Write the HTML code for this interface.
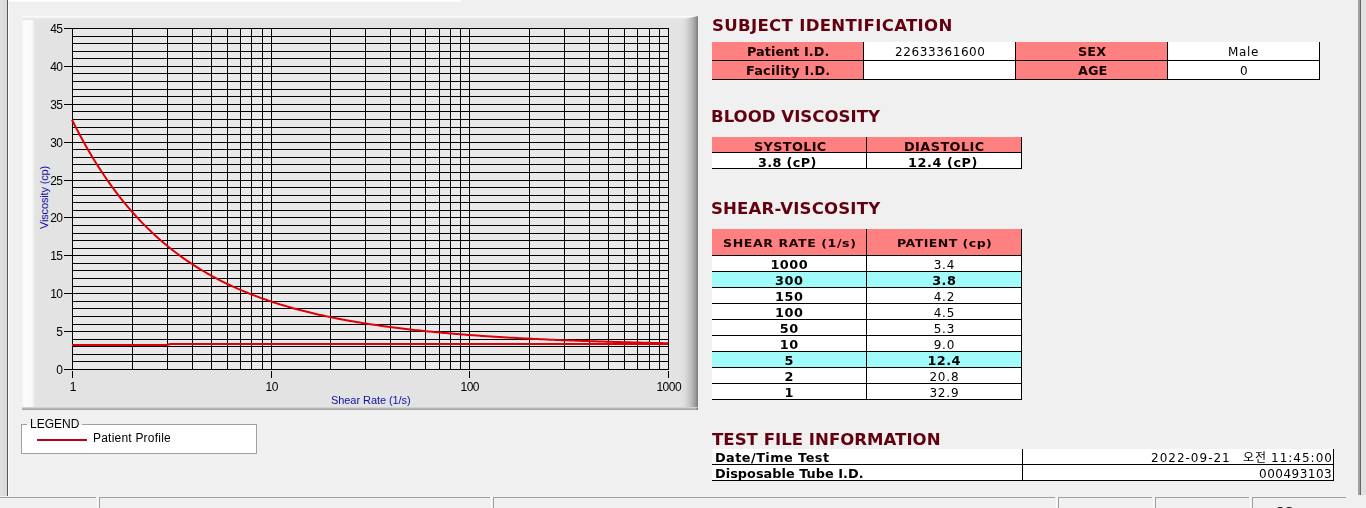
<!DOCTYPE html>
<html><head><meta charset="utf-8">
<style>
html,body{margin:0;padding:0;}
body{width:1366px;height:508px;overflow:hidden;background:#f0f0f0;position:relative;font-family:"DejaVu Sans","Liberation Sans",sans-serif;}
.a{position:absolute;}
.t{position:absolute;line-height:20px;white-space:nowrap;}
#txt{position:absolute;left:0;top:0;width:1366px;height:508px;will-change:transform;}
#lstrip{left:0;top:0;width:7px;height:496px;background:linear-gradient(to right,#dedede 0,#e2e2e2 2px,#d8d8d8 4px,#e0e0e0 6px,#d0d0d0 7px);}
#lline{left:7px;top:0;width:1px;height:496px;background:#585858;}
#lwhite{left:8px;top:0;width:1px;height:496px;background:#fbfbfb;}
#topw{left:8px;top:0;width:453px;height:2px;background:linear-gradient(to bottom,#fff 0,#fff 1px,#f6f6f6 2px);}
#panel{left:22px;top:16px;width:676px;height:394px;background:#e3e3e3;overflow:hidden;}
#pl{left:0;top:0;width:14px;height:391px;background:linear-gradient(to right,#f5f5f5 0,#fbfbfb 2px,#fafafa 9px,#f2f2f2 11px,#e3e3e3 13px);}
#pt{left:0;top:0;width:676px;height:4px;background:linear-gradient(to bottom,#fafafa 0,#fafafa 1px,#ececec 2px,#e3e3e3 4px);}
#pr{right:0;top:0;width:18px;height:394px;background:linear-gradient(to right,#e3e3e3 0,#dcdcdc 5px,#c4c4c4 10px,#a0a0a0 15px,#7a7a7a 18px);clip-path:polygon(0 4px,100% 0,100% 100%,0 100%);}
#pb{left:0;bottom:0;width:676px;height:3px;background:linear-gradient(to bottom,#e3e3e3 0,#c0c0c0 1px,#9c9c9c 3px);clip-path:polygon(0 0,100% 0,calc(100% - 3px) 100%,0 100%);}
#legend{left:21px;top:424px;width:236px;height:30px;box-sizing:border-box;border:1px solid #a0a0a0;background:#fff;}
#legbg{left:27px;top:424px;width:55px;height:1px;background:#f0f0f0;}
#legline{left:37px;top:439px;width:50px;height:2px;background:#c00018;}
#sb{left:0;top:497px;width:1346px;height:1px;background:#a0a0a0;}
.sep{position:absolute;top:497px;width:1px;height:11px;background:#a0a0a0;}
.sepw{position:absolute;top:497px;width:1px;height:11px;background:#fff;}
#rline{left:1360px;top:0;width:1px;height:495px;background:#666;}
#rline2{left:1358px;top:0;width:2px;height:495px;background:#a0a0a0;}
#rstrip{left:1361px;top:0;width:5px;height:495px;background:#e1e1e1;}
</style></head><body>
<div class="a" id="lstrip"></div><div class="a" id="lline"></div><div class="a" id="lwhite"></div>
<div class="a" id="topw"></div>
<div class="a" id="panel">
<div class="a" id="pl"></div><div class="a" id="pt"></div><div class="a" id="pr"></div><div class="a" id="pb"></div>
</div>
<svg class="a" width="1366" height="508" style="left:0;top:0">
<rect x="72" y="28" width="596" height="341" fill="#e9e9e9"/>
<path d="M72 369.5H669M72 361.5H669M72 354.5H669M72 346.5H669M72 339.5H669M72 331.5H669M72 324.5H669M72 316.5H669M72 308.5H669M72 301.5H669M72 293.5H669M72 286.5H669M72 278.5H669M72 270.5H669M72 263.5H669M72 255.5H669M72 248.5H669M72 240.5H669M72 233.5H669M72 225.5H669M72 217.5H669M72 210.5H669M72 202.5H669M72 195.5H669M72 187.5H669M72 180.5H669M72 172.5H669M72 164.5H669M72 157.5H669M72 149.5H669M72 142.5H669M72 134.5H669M72 127.5H669M72 119.5H669M72 111.5H669M72 104.5H669M72 96.5H669M72 89.5H669M72 81.5H669M72 73.5H669M72 66.5H669M72 58.5H669M72 51.5H669M72 43.5H669M72 36.5H669M72 28.5H669M72.5 28V370M132.5 28V370M167.5 28V370M192.5 28V370M211.5 28V370M227.5 28V370M240.5 28V370M251.5 28V370M262.5 28V370M271.5 28V370M330.5 28V370M365.5 28V370M390.5 28V370M410.5 28V370M425.5 28V370M439.5 28V370M450.5 28V370M460.5 28V370M469.5 28V370M529.5 28V370M564.5 28V370M589.5 28V370M608.5 28V370M624.5 28V370M637.5 28V370M649.5 28V370M659.5 28V370M668.5 28V370M64 369.5H72M64 331.5H72M64 293.5H72M64 255.5H72M64 217.5H72M64 180.5H72M64 142.5H72M64 104.5H72M64 66.5H72M64 28.5H72M72.5 371V378M271.5 371V378M469.5 371V378M668.5 371V378" stroke="#000" stroke-width="1" fill="none" shape-rendering="crispEdges"/>
<polyline points="72.0,119.68 74.0,123.69 76.0,127.62 78.0,131.47 80.0,135.25 82.0,138.96 84.0,142.60 86.0,146.16 88.0,149.66 90.0,153.09 92.0,156.45 94.0,159.75 96.0,162.98 98.0,166.15 100.0,169.26 102.0,172.32 104.0,175.31 106.0,178.25 108.0,181.13 110.0,183.95 112.0,186.73 114.0,189.44 116.0,192.11 118.0,194.73 120.0,197.30 122.0,199.82 124.0,202.29 126.0,204.72 128.0,207.10 130.0,209.44 132.0,211.73 134.0,213.98 136.0,216.19 138.0,218.36 140.0,220.48 142.0,222.57 144.0,224.62 146.0,226.63 148.0,228.61 150.0,230.55 152.0,232.45 154.0,234.32 156.0,236.15 158.0,237.95 160.0,239.72 162.0,241.45 164.0,243.16 166.0,244.83 168.0,246.47 170.0,248.08 172.0,249.67 174.0,251.22 176.0,252.75 178.0,254.25 180.0,255.72 182.0,257.17 184.0,258.59 186.0,259.99 188.0,261.36 190.0,262.70 192.0,264.03 194.0,265.32 196.0,266.60 198.0,267.85 200.0,269.09 202.0,270.30 204.0,271.49 206.0,272.65 208.0,273.80 210.0,274.93 212.0,276.04 214.0,277.13 216.0,278.20 218.0,279.25 220.0,280.28 222.0,281.30 224.0,282.30 226.0,283.28 228.0,284.24 230.0,285.19 232.0,286.12 234.0,287.04 236.0,287.94 238.0,288.82 240.0,289.69 242.0,290.55 244.0,291.39 246.0,292.22 248.0,293.03 250.0,293.83 252.0,294.61 254.0,295.39 256.0,296.15 258.0,296.89 260.0,297.63 262.0,298.35 264.0,299.06 266.0,299.76 268.0,300.45 270.0,301.13 272.0,301.79 274.0,302.44 276.0,303.09 278.0,303.72 280.0,304.34 282.0,304.96 284.0,305.56 286.0,306.15 288.0,306.74 290.0,307.31 292.0,307.88 294.0,308.43 296.0,308.98 298.0,309.52 300.0,310.05 302.0,310.57 304.0,311.08 306.0,311.58 308.0,312.08 310.0,312.57 312.0,313.05 314.0,313.53 316.0,313.99 318.0,314.45 320.0,314.90 322.0,315.35 324.0,315.78 326.0,316.22 328.0,316.64 330.0,317.06 332.0,317.47 334.0,317.87 336.0,318.27 338.0,318.66 340.0,319.05 342.0,319.43 344.0,319.81 346.0,320.18 348.0,320.54 350.0,320.90 352.0,321.25 354.0,321.60 356.0,321.94 358.0,322.27 360.0,322.61 362.0,322.93 364.0,323.25 366.0,323.57 368.0,323.88 370.0,324.19 372.0,324.49 374.0,324.79 376.0,325.09 378.0,325.38 380.0,325.66 382.0,325.94 384.0,326.22 386.0,326.49 388.0,326.76 390.0,327.03 392.0,327.29 394.0,327.55 396.0,327.80 398.0,328.05 400.0,328.30 402.0,328.54 404.0,328.78 406.0,329.01 408.0,329.25 410.0,329.48 412.0,329.70 414.0,329.92 416.0,330.14 418.0,330.36 420.0,330.57 422.0,330.78 424.0,330.99 426.0,331.19 428.0,331.39 430.0,331.59 432.0,331.79 434.0,331.98 436.0,332.17 438.0,332.36 440.0,332.54 442.0,332.73 444.0,332.91 446.0,333.08 448.0,333.26 450.0,333.43 452.0,333.60 454.0,333.77 456.0,333.93 458.0,334.10 460.0,334.26 462.0,334.42 464.0,334.57 466.0,334.73 468.0,334.88 470.0,335.03 472.0,335.18 474.0,335.32 476.0,335.47 478.0,335.61 480.0,335.75 482.0,335.89 484.0,336.02 486.0,336.16 488.0,336.29 490.0,336.42 492.0,336.55 494.0,336.68 496.0,336.80 498.0,336.92 500.0,337.05 502.0,337.17 504.0,337.29 506.0,337.40 508.0,337.52 510.0,337.63 512.0,337.75 514.0,337.86 516.0,337.97 518.0,338.08 520.0,338.18 522.0,338.29 524.0,338.39 526.0,338.49 528.0,338.60 530.0,338.70 532.0,338.79 534.0,338.89 536.0,338.99 538.0,339.08 540.0,339.18 542.0,339.27 544.0,339.36 546.0,339.45 548.0,339.54 550.0,339.63 552.0,339.71 554.0,339.80 556.0,339.88 558.0,339.97 560.0,340.05 562.0,340.13 564.0,340.21 566.0,340.29 568.0,340.37 570.0,340.44 572.0,340.52 574.0,340.59 576.0,340.67 578.0,340.74 580.0,340.81 582.0,340.88 584.0,340.95 586.0,341.02 588.0,341.09 590.0,341.16 592.0,341.23 594.0,341.29 596.0,341.36 598.0,341.42 600.0,341.49 602.0,341.55 604.0,341.61 606.0,341.67 608.0,341.73 610.0,341.79 612.0,341.85 614.0,341.91 616.0,341.97 618.0,342.02 620.0,342.08 622.0,342.13 624.0,342.19 626.0,342.24 628.0,342.30 630.0,342.35 632.0,342.40 634.0,342.45 636.0,342.50 638.0,342.55 640.0,342.60 642.0,342.65 644.0,342.70 646.0,342.75 648.0,342.79 650.0,342.84 652.0,342.88 654.0,342.93 656.0,342.97 658.0,343.02 660.0,343.06 662.0,343.10 664.0,343.15 666.0,343.19 668.0,343.23" fill="none" stroke="#dc0008" stroke-width="2" stroke-linejoin="round"/>
<path d="M72 345H167L170 344H668" fill="none" stroke="#dc0008" stroke-width="2"/>
<text transform="translate(47.5 197.5) rotate(-90)" text-anchor="middle" letter-spacing="-0.15" font-family="Liberation Sans, Arial, sans-serif" font-size="11" fill="#1010a4">Viscosity (cp)</text>
</svg>
<div class="a" id="legend"></div>
<div class="a" id="legbg"></div>
<div class="a" id="legline"></div>
<div class="a" style="left:712px;top:42px;width:151px;height:18px;background:#ff8080;"></div>
<div class="a" style="left:864px;top:42px;width:151px;height:18px;background:#ffffff;"></div>
<div class="a" style="left:1016px;top:42px;width:151px;height:18px;background:#ff8080;"></div>
<div class="a" style="left:1168px;top:42px;width:151px;height:18px;background:#ffffff;"></div>
<div class="a" style="left:712px;top:61px;width:151px;height:18px;background:#ff8080;"></div>
<div class="a" style="left:864px;top:61px;width:151px;height:18px;background:#ffffff;"></div>
<div class="a" style="left:1016px;top:61px;width:151px;height:18px;background:#ff8080;"></div>
<div class="a" style="left:1168px;top:61px;width:151px;height:18px;background:#ffffff;"></div>
<div class="a" style="left:863px;top:42px;width:1px;height:38px;background:#000;"></div>
<div class="a" style="left:1015px;top:42px;width:1px;height:38px;background:#000;"></div>
<div class="a" style="left:1167px;top:42px;width:1px;height:38px;background:#000;"></div>
<div class="a" style="left:1319px;top:42px;width:1px;height:38px;background:#000;"></div>
<div class="a" style="left:712px;top:60px;width:608px;height:1px;background:#000;"></div>
<div class="a" style="left:712px;top:79px;width:608px;height:1px;background:#000;"></div>
<div class="a" style="left:712px;top:137px;width:154px;height:15px;background:#ff8080;"></div>
<div class="a" style="left:867px;top:137px;width:154px;height:15px;background:#ff8080;"></div>
<div class="a" style="left:712px;top:153px;width:154px;height:15px;background:#ffffff;"></div>
<div class="a" style="left:867px;top:153px;width:154px;height:15px;background:#ffffff;"></div>
<div class="a" style="left:866px;top:137px;width:1px;height:32px;background:#000;"></div>
<div class="a" style="left:1021px;top:137px;width:1px;height:32px;background:#000;"></div>
<div class="a" style="left:712px;top:152px;width:310px;height:1px;background:#000;"></div>
<div class="a" style="left:712px;top:168px;width:310px;height:1px;background:#000;"></div>
<div class="a" style="left:712px;top:229px;width:154px;height:26px;background:#ff8080;"></div>
<div class="a" style="left:867px;top:229px;width:154px;height:26px;background:#ff8080;"></div>
<div class="a" style="left:712px;top:256px;width:154px;height:15px;background:#ffffff;"></div>
<div class="a" style="left:867px;top:256px;width:154px;height:15px;background:#ffffff;"></div>
<div class="a" style="left:712px;top:272px;width:154px;height:15px;background:#a0fbf9;"></div>
<div class="a" style="left:867px;top:272px;width:154px;height:15px;background:#a0fbf9;"></div>
<div class="a" style="left:712px;top:288px;width:154px;height:15px;background:#ffffff;"></div>
<div class="a" style="left:867px;top:288px;width:154px;height:15px;background:#ffffff;"></div>
<div class="a" style="left:712px;top:304px;width:154px;height:15px;background:#ffffff;"></div>
<div class="a" style="left:867px;top:304px;width:154px;height:15px;background:#ffffff;"></div>
<div class="a" style="left:712px;top:320px;width:154px;height:15px;background:#ffffff;"></div>
<div class="a" style="left:867px;top:320px;width:154px;height:15px;background:#ffffff;"></div>
<div class="a" style="left:712px;top:336px;width:154px;height:15px;background:#ffffff;"></div>
<div class="a" style="left:867px;top:336px;width:154px;height:15px;background:#ffffff;"></div>
<div class="a" style="left:712px;top:352px;width:154px;height:15px;background:#a0fbf9;"></div>
<div class="a" style="left:867px;top:352px;width:154px;height:15px;background:#a0fbf9;"></div>
<div class="a" style="left:712px;top:368px;width:154px;height:15px;background:#ffffff;"></div>
<div class="a" style="left:867px;top:368px;width:154px;height:15px;background:#ffffff;"></div>
<div class="a" style="left:712px;top:384px;width:154px;height:15px;background:#ffffff;"></div>
<div class="a" style="left:867px;top:384px;width:154px;height:15px;background:#ffffff;"></div>
<div class="a" style="left:866px;top:229px;width:1px;height:171px;background:#000;"></div>
<div class="a" style="left:1021px;top:229px;width:1px;height:171px;background:#000;"></div>
<div class="a" style="left:712px;top:255px;width:310px;height:1px;background:#000;"></div>
<div class="a" style="left:712px;top:271px;width:310px;height:1px;background:#000;"></div>
<div class="a" style="left:712px;top:287px;width:310px;height:1px;background:#000;"></div>
<div class="a" style="left:712px;top:303px;width:310px;height:1px;background:#000;"></div>
<div class="a" style="left:712px;top:319px;width:310px;height:1px;background:#000;"></div>
<div class="a" style="left:712px;top:335px;width:310px;height:1px;background:#000;"></div>
<div class="a" style="left:712px;top:351px;width:310px;height:1px;background:#000;"></div>
<div class="a" style="left:712px;top:367px;width:310px;height:1px;background:#000;"></div>
<div class="a" style="left:712px;top:383px;width:310px;height:1px;background:#000;"></div>
<div class="a" style="left:712px;top:399px;width:310px;height:1px;background:#000;"></div>
<div class="a" style="left:712px;top:449px;width:310px;height:15px;background:#ffffff;"></div>
<div class="a" style="left:1023px;top:449px;width:310px;height:15px;background:#ffffff;"></div>
<div class="a" style="left:712px;top:465px;width:310px;height:15px;background:#ffffff;"></div>
<div class="a" style="left:1023px;top:465px;width:310px;height:15px;background:#ffffff;"></div>
<div class="a" style="left:1022px;top:449px;width:1px;height:32px;background:#000;"></div>
<div class="a" style="left:1333px;top:449px;width:1px;height:32px;background:#000;"></div>
<div class="a" style="left:712px;top:464px;width:622px;height:1px;background:#000;"></div>
<div class="a" style="left:712px;top:480px;width:622px;height:1px;background:#000;"></div>
<div id="txt">
<div class="t" id="h1" style="left:712.0px;top:16px;font:bold 16px/20px 'DejaVu Sans',sans-serif;color:#620010;letter-spacing:0.3px;transform:scaleX(1.035);transform-origin:0 0;">SUBJECT IDENTIFICATION</div>
<div class="t" id="h2" style="left:711.0px;top:107px;font:bold 16px/20px 'DejaVu Sans',sans-serif;color:#620010;letter-spacing:0.015px;transform:scaleX(1.035);transform-origin:0 0;">BLOOD VISCOSITY</div>
<div class="t" id="h3" style="left:711.0px;top:199px;font:bold 16px/20px 'DejaVu Sans',sans-serif;color:#620010;letter-spacing:0.157px;transform:scaleX(1.035);transform-origin:0 0;">SHEAR-VISCOSITY</div>
<div class="t" id="h4" style="left:712.0px;top:430px;font:bold 16px/20px 'DejaVu Sans',sans-serif;color:#620010;letter-spacing:0.014px;transform:scaleX(1.035);transform-origin:0 0;">TEST FILE INFORMATION</div>
<div class="t" id="t1a" style="left:747.0px;top:42px;font:bold 12px/20px 'DejaVu Sans',sans-serif;color:#140000;letter-spacing:0.036px;transform:scaleX(1.07);transform-origin:0 0;">Patient I.D.</div>
<div class="t" id="t1b" style="left:895.0px;top:42px;font:normal 12px/20px 'DejaVu Sans',sans-serif;color:#000;letter-spacing:0.6px;">22633361600</div>
<div class="t" id="t1c" style="left:1078.0px;top:42px;font:bold 12px/20px 'DejaVu Sans',sans-serif;color:#140000;letter-spacing:0.065px;transform:scaleX(1.07);transform-origin:0 0;">SEX</div>
<div class="t" id="t1d" style="left:1228.0px;top:42px;font:normal 12px/20px 'DejaVu Sans',sans-serif;color:#000;letter-spacing:0.667px;">Male</div>
<div class="t" id="t1e" style="left:746.0px;top:61px;font:bold 12px/20px 'DejaVu Sans',sans-serif;color:#140000;letter-spacing:0.2px;transform:scaleX(1.07);transform-origin:0 0;">Facility I.D.</div>
<div class="t" id="t1g" style="left:1078.0px;top:61px;font:bold 12px/20px 'DejaVu Sans',sans-serif;color:#140000;letter-spacing:0.033px;transform:scaleX(1.07);transform-origin:0 0;">AGE</div>
<div class="t" id="t1h" style="left:1240.0px;top:61px;font:normal 12px/20px 'DejaVu Sans',sans-serif;color:#000;letter-spacing:0.0px;">0</div>
<div class="t" id="t2a" style="left:754.0px;top:137px;font:bold 12px/20px 'DejaVu Sans',sans-serif;color:#140000;letter-spacing:0.323px;transform:scaleX(1.07);transform-origin:0 0;">SYSTOLIC</div>
<div class="t" id="t2b" style="left:904.0px;top:137px;font:bold 12px/20px 'DejaVu Sans',sans-serif;color:#140000;letter-spacing:0.416px;transform:scaleX(1.07);transform-origin:0 0;">DIASTOLIC</div>
<div class="t" id="t2c" style="left:758.0px;top:153px;font:bold 12px/20px 'DejaVu Sans',sans-serif;color:#000;letter-spacing:0.323px;transform:scaleX(1.07);transform-origin:0 0;">3.8 (cP)</div>
<div class="t" id="t2d" style="left:908.0px;top:153px;font:bold 12px/20px 'DejaVu Sans',sans-serif;color:#000;letter-spacing:0.525px;transform:scaleX(1.07);transform-origin:0 0;">12.4 (cP)</div>
<div class="t" id="t3a" style="left:723.0px;top:234px;font:bold 11px/20px 'DejaVu Sans',sans-serif;color:#140000;letter-spacing:0.526px;transform:scaleX(1.14);transform-origin:0 0;">SHEAR RATE (1/s)</div>
<div class="t" id="t3b" style="left:897.0px;top:234px;font:bold 11px/20px 'DejaVu Sans',sans-serif;color:#140000;letter-spacing:0.399px;transform:scaleX(1.14);transform-origin:0 0;">PATIENT (cp)</div>
<div class="t" id="r0a" style="left:713px;width:152px;text-align:center;text-indent:0.45px;top:255px;font:bold 12px/20px 'DejaVu Sans',sans-serif;color:#000;letter-spacing:0.45px;transform:scaleX(1.07);transform-origin:50% 0;">1000</div>
<div class="t" id="r0b" style="left:868px;width:152px;text-align:center;text-indent:0.8px;top:255px;font:normal 12px/20px 'DejaVu Sans',sans-serif;color:#000;letter-spacing:0.8px;">3.4</div>
<div class="t" id="r1a" style="left:713px;width:152px;text-align:center;text-indent:0.45px;top:271px;font:bold 12px/20px 'DejaVu Sans',sans-serif;color:#000;letter-spacing:0.45px;transform:scaleX(1.07);transform-origin:50% 0;">300</div>
<div class="t" id="r1b" style="left:868px;width:152px;text-align:center;text-indent:0.45px;top:271px;font:bold 12px/20px 'DejaVu Sans',sans-serif;color:#000;letter-spacing:0.45px;transform:scaleX(1.07);transform-origin:50% 0;">3.8</div>
<div class="t" id="r2a" style="left:713px;width:152px;text-align:center;text-indent:0.45px;top:287px;font:bold 12px/20px 'DejaVu Sans',sans-serif;color:#000;letter-spacing:0.45px;transform:scaleX(1.07);transform-origin:50% 0;">150</div>
<div class="t" id="r2b" style="left:868px;width:152px;text-align:center;text-indent:0.8px;top:287px;font:normal 12px/20px 'DejaVu Sans',sans-serif;color:#000;letter-spacing:0.8px;">4.2</div>
<div class="t" id="r3a" style="left:713px;width:152px;text-align:center;text-indent:0.45px;top:303px;font:bold 12px/20px 'DejaVu Sans',sans-serif;color:#000;letter-spacing:0.45px;transform:scaleX(1.07);transform-origin:50% 0;">100</div>
<div class="t" id="r3b" style="left:868px;width:152px;text-align:center;text-indent:0.8px;top:303px;font:normal 12px/20px 'DejaVu Sans',sans-serif;color:#000;letter-spacing:0.8px;">4.5</div>
<div class="t" id="r4a" style="left:713px;width:152px;text-align:center;text-indent:0.45px;top:319px;font:bold 12px/20px 'DejaVu Sans',sans-serif;color:#000;letter-spacing:0.45px;transform:scaleX(1.07);transform-origin:50% 0;">50</div>
<div class="t" id="r4b" style="left:868px;width:152px;text-align:center;text-indent:0.8px;top:319px;font:normal 12px/20px 'DejaVu Sans',sans-serif;color:#000;letter-spacing:0.8px;">5.3</div>
<div class="t" id="r5a" style="left:713px;width:152px;text-align:center;text-indent:0.45px;top:335px;font:bold 12px/20px 'DejaVu Sans',sans-serif;color:#000;letter-spacing:0.45px;transform:scaleX(1.07);transform-origin:50% 0;">10</div>
<div class="t" id="r5b" style="left:868px;width:152px;text-align:center;text-indent:0.8px;top:335px;font:normal 12px/20px 'DejaVu Sans',sans-serif;color:#000;letter-spacing:0.8px;">9.0</div>
<div class="t" id="r6a" style="left:713px;width:152px;text-align:center;text-indent:0.45px;top:351px;font:bold 12px/20px 'DejaVu Sans',sans-serif;color:#000;letter-spacing:0.45px;transform:scaleX(1.07);transform-origin:50% 0;">5</div>
<div class="t" id="r6b" style="left:868px;width:152px;text-align:center;text-indent:0.45px;top:351px;font:bold 12px/20px 'DejaVu Sans',sans-serif;color:#000;letter-spacing:0.45px;transform:scaleX(1.07);transform-origin:50% 0;">12.4</div>
<div class="t" id="r7a" style="left:713px;width:152px;text-align:center;text-indent:0.45px;top:367px;font:bold 12px/20px 'DejaVu Sans',sans-serif;color:#000;letter-spacing:0.45px;transform:scaleX(1.07);transform-origin:50% 0;">2</div>
<div class="t" id="r7b" style="left:868px;width:152px;text-align:center;text-indent:0.8px;top:367px;font:normal 12px/20px 'DejaVu Sans',sans-serif;color:#000;letter-spacing:0.8px;">20.8</div>
<div class="t" id="r8a" style="left:713px;width:152px;text-align:center;text-indent:0.45px;top:383px;font:bold 12px/20px 'DejaVu Sans',sans-serif;color:#000;letter-spacing:0.45px;transform:scaleX(1.07);transform-origin:50% 0;">1</div>
<div class="t" id="r8b" style="left:868px;width:152px;text-align:center;text-indent:0.8px;top:383px;font:normal 12px/20px 'DejaVu Sans',sans-serif;color:#000;letter-spacing:0.8px;">32.9</div>
<div class="t" id="t4a" style="left:715.0px;top:448px;font:bold 12px/20px 'DejaVu Sans',sans-serif;color:#000;letter-spacing:0.425px;transform:scaleX(1.07);transform-origin:0 0;">Date/Time Test</div>
<div class="t" id="t4b" style="left:1151.0px;top:448px;font:normal 12px/20px 'DejaVu Sans',sans-serif;color:#000;letter-spacing:1.0px;">2022-09-21</div>
<div class="t" id="t4c" style="left:1243.0px;top:448px;font:normal 12px/20px 'Liberation Sans','Noto Sans CJK KR','NanumGothic',sans-serif;color:#000;letter-spacing:1.0px;">오전</div>
<div class="t" id="t4d" style="left:1271.0px;top:448px;font:normal 12px/20px 'DejaVu Sans',sans-serif;color:#000;letter-spacing:1.0px;">11:45:00</div>
<div class="t" id="t4e" style="left:715.0px;top:464px;font:bold 12px/20px 'DejaVu Sans',sans-serif;color:#000;letter-spacing:0.034px;transform:scaleX(1.07);transform-origin:0 0;">Disposable Tube I.D.</div>
<div class="t" id="t4f" style="left:1259.0px;top:464px;font:normal 12px/20px 'DejaVu Sans',sans-serif;color:#000;letter-spacing:0.5px;">000493103</div>
<div class="t" id="lg1" style="left:30.0px;top:414px;font:normal 12px/20px 'Liberation Sans',Arial,sans-serif;color:#000;letter-spacing:0.0px;">LEGEND</div>
<div class="t" id="lg2" style="left:93.0px;top:428px;font:normal 12px/20px 'Liberation Sans',Arial,sans-serif;color:#000;letter-spacing:0.214px;">Patient Profile</div>
<div class="t" id="yl0" style="right:1303.5px;top:360px;font:normal 12px/20px 'Liberation Sans',Arial,sans-serif;color:#000;letter-spacing:-0.5px;">0</div>
<div class="t" id="yl5" style="right:1303.5px;top:322px;font:normal 12px/20px 'Liberation Sans',Arial,sans-serif;color:#000;letter-spacing:-0.5px;">5</div>
<div class="t" id="yl10" style="right:1303.5px;top:284px;font:normal 12px/20px 'Liberation Sans',Arial,sans-serif;color:#000;letter-spacing:-0.5px;">10</div>
<div class="t" id="yl15" style="right:1303.5px;top:246px;font:normal 12px/20px 'Liberation Sans',Arial,sans-serif;color:#000;letter-spacing:-0.5px;">15</div>
<div class="t" id="yl20" style="right:1303.5px;top:208px;font:normal 12px/20px 'Liberation Sans',Arial,sans-serif;color:#000;letter-spacing:-0.5px;">20</div>
<div class="t" id="yl25" style="right:1303.5px;top:171px;font:normal 12px/20px 'Liberation Sans',Arial,sans-serif;color:#000;letter-spacing:-0.5px;">25</div>
<div class="t" id="yl30" style="right:1303.5px;top:133px;font:normal 12px/20px 'Liberation Sans',Arial,sans-serif;color:#000;letter-spacing:-0.5px;">30</div>
<div class="t" id="yl35" style="right:1303.5px;top:95px;font:normal 12px/20px 'Liberation Sans',Arial,sans-serif;color:#000;letter-spacing:-0.5px;">35</div>
<div class="t" id="yl40" style="right:1303.5px;top:57px;font:normal 12px/20px 'Liberation Sans',Arial,sans-serif;color:#000;letter-spacing:-0.5px;">40</div>
<div class="t" id="yl45" style="right:1303.5px;top:19px;font:normal 12px/20px 'Liberation Sans',Arial,sans-serif;color:#000;letter-spacing:-0.5px;">45</div>
<div class="t" id="xl1" style="left:52px;width:40px;text-align:center;text-indent:1.5px;top:377px;font:normal 12px/20px 'Liberation Sans',Arial,sans-serif;color:#000;letter-spacing:-0.5px;">1</div>
<div class="t" id="xl10" style="left:251px;width:40px;text-align:center;text-indent:1.5px;top:377px;font:normal 12px/20px 'Liberation Sans',Arial,sans-serif;color:#000;letter-spacing:-0.5px;">10</div>
<div class="t" id="xl100" style="left:449px;width:40px;text-align:center;text-indent:1.5px;top:377px;font:normal 12px/20px 'Liberation Sans',Arial,sans-serif;color:#000;letter-spacing:-0.5px;">100</div>
<div class="t" id="xl1000" style="left:648px;width:40px;text-align:center;text-indent:1.5px;top:377px;font:normal 12px/20px 'Liberation Sans',Arial,sans-serif;color:#000;letter-spacing:-0.5px;">1000</div>
<div class="t" id="xt" style="left:331.0px;top:390px;font:normal 11px/20px 'Liberation Sans',Arial,sans-serif;color:#1010a4;letter-spacing:-0.067px;">Shear Rate (1/s)</div>
</div>
<div class="a" style="left:0px;top:497px;width:96px;height:1px;background:#a0a0a0"></div>
<div class="a" style="left:99px;top:497px;width:391px;height:1px;background:#a0a0a0"></div>
<div class="sep" style="left:99px"></div>
<div class="sepw" style="left:97px"></div>
<div class="a" style="left:493px;top:497px;width:562px;height:1px;background:#a0a0a0"></div>
<div class="sep" style="left:493px"></div>
<div class="sepw" style="left:491px"></div>
<div class="a" style="left:1058px;top:497px;width:94px;height:1px;background:#a0a0a0"></div>
<div class="sep" style="left:1058px"></div>
<div class="sepw" style="left:1056px"></div>
<div class="a" style="left:1155px;top:497px;width:94px;height:1px;background:#a0a0a0"></div>
<div class="sep" style="left:1155px"></div>
<div class="sepw" style="left:1153px"></div>
<div class="a" style="left:1252px;top:497px;width:94px;height:1px;background:#a0a0a0"></div>
<div class="sep" style="left:1252px"></div>
<div class="sepw" style="left:1250px"></div>
<div class="t" style="left:1275px;top:502px;font:bold 12px/20px 'DejaVu Sans',sans-serif;color:#000;letter-spacing:-0.5px">OS</div>
<div class="a" id="rline2"></div><div class="a" id="rline"></div><div class="a" id="rstrip"></div>
</body></html>
